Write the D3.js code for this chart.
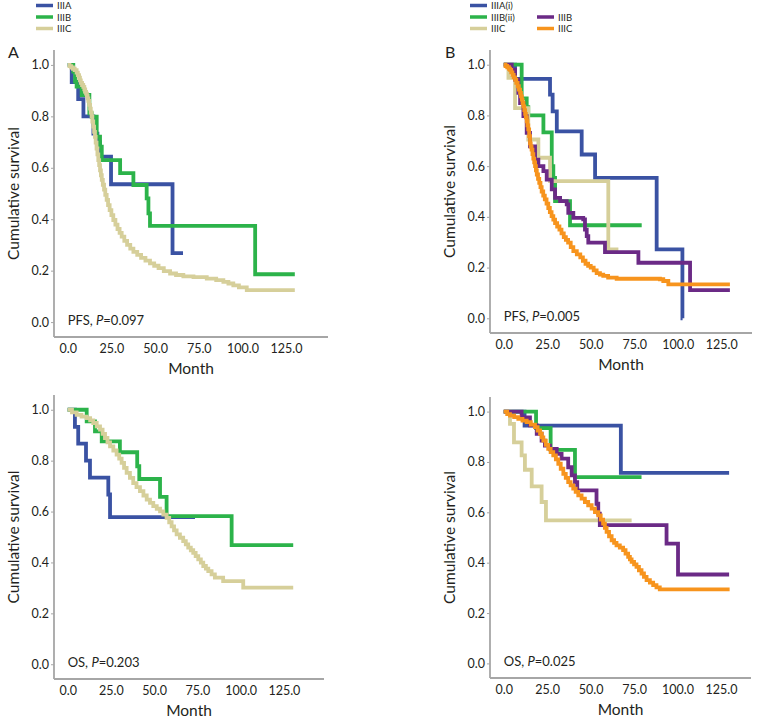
<!DOCTYPE html>
<html><head><meta charset="utf-8">
<script src="https://cdn.jsdelivr.net/npm/d3@7/dist/d3.min.js"></script>
<style>
body{margin:0;background:#fff;}
svg{display:block;}
text{font-family:Lato,"Open Sans",sans-serif;fill:#231f20;}
</style></head><body>
<svg id="chart" width="758" height="721"></svg>
<script>
// ---- data (month, cumulative survival) ----
const xTicks = [0, 25, 50, 75, 100, 125];
const yTicks = [0, 0.2, 0.4, 0.6, 0.8, 1.0];

const legendA = ["IIIA", "IIIB", "IIIC"];
const legendB1 = ["IIIA(i)", "IIIB(ii)", "IIIC"];
const legendB2 = ["IIIB", "IIIC"];

// Panel A – PFS
const pfsA_IIIA = [[0,1],[2.3,0.933],[6,0.867],[9,0.8],[14.7,0.733],[17,0.7],[18.5,0.643],[24.8,0.536],[60,0.268],[66,0.268]];
const pfsA_IIIB = [[0,1],[3.2,0.974],[4.2,0.935],[5.1,0.916],[8,0.883],[12.4,0.812],[13.7,0.799],[16.6,0.721],[18.5,0.682],[19.5,0.63],[30,0.579],[37.6,0.533],[45.2,0.481],[46.2,0.423],[47.1,0.374],[107.3,0.186],[130,0.186]];
const pfsA_IIIC = [[0,1],[1,0.995],[2,0.99],[3,0.985],[4,0.98],[5.1,0.97],[5.8,0.96],[6.5,0.95],[7,0.94],[7.5,0.93],[8.2,0.922],[8.9,0.915],[9.5,0.905],[10,0.895],[10.5,0.888],[11,0.88],[11.4,0.87],[11.8,0.86],[12.3,0.845],[12.8,0.83],[13.2,0.815],[13.7,0.8],[14.1,0.78],[14.6,0.76],[15.1,0.74],[15.6,0.72],[16,0.698],[16.5,0.675],[17,0.652],[17.5,0.63],[18,0.61],[18.5,0.59],[19,0.571],[19.5,0.553],[20.1,0.534],[20.8,0.515],[21.5,0.495],[22.3,0.475],[23.1,0.455],[24,0.435],[25,0.416],[26.1,0.397],[27.3,0.379],[28.5,0.362],[29.7,0.347],[30.9,0.332],[32.4,0.316],[34,0.3],[35.8,0.286],[37.6,0.273],[39.8,0.261],[42,0.25],[44.5,0.239],[47.1,0.228],[49.5,0.219],[52,0.21],[55,0.198],[58.6,0.189],[62,0.183],[66.2,0.178],[72,0.175],[79.6,0.169],[85,0.163],[89.1,0.156],[92,0.15],[94.8,0.143],[98,0.135],[102.5,0.124],[130,0.124]];

// Panel A – OS
const osA_IIIA = [[0,1],[4.2,0.933],[6.1,0.867],[10.6,0.8],[12.9,0.733],[23.5,0.667],[24.5,0.578],[73.6,0.578]];
const osA_IIIB = [[0,1],[11,0.954],[15.8,0.915],[19.7,0.876],[30.2,0.833],[40.2,0.778],[41.4,0.728],[53.4,0.658],[57.2,0.582],[94.8,0.468],[130.4,0.468]];
const osA_IIIC = [[0,1],[2.5,0.99],[5.2,0.98],[8,0.973],[11,0.967],[13,0.958],[14.8,0.948],[16.8,0.935],[18.7,0.922],[20.2,0.905],[21.6,0.889],[23,0.872],[24.5,0.856],[26.4,0.84],[28.3,0.824],[29.8,0.808],[31.2,0.791],[32.6,0.772],[34.1,0.752],[36,0.732],[37.9,0.712],[39.8,0.696],[41.8,0.68],[43.8,0.663],[45.7,0.647],[47.6,0.634],[49.5,0.621],[51.5,0.611],[53.4,0.601],[55.3,0.588],[57.2,0.575],[58.7,0.558],[60.1,0.542],[61.5,0.526],[63,0.51],[64.9,0.497],[66.8,0.484],[68.3,0.471],[69.7,0.458],[71.2,0.448],[72.6,0.438],[74,0.425],[75.5,0.412],[77,0.399],[78.4,0.386],[79.9,0.376],[81.3,0.366],[83.2,0.353],[85.1,0.34],[89.9,0.327],[101.5,0.301],[130.4,0.301]];

// Panel B – PFS
const pfsB_IIIAi = [[0,1],[6.5,0.944],[26.6,0.882],[28.1,0.816],[30.5,0.737],[44.8,0.646],[52.5,0.554],[87.9,0.272],[102.7,0],[102.8,0]];
const pfsB_IIIBii = [[0,1],[10.3,0.867],[13.2,0.833],[14.1,0.8],[22.8,0.733],[27.6,0.6],[28.5,0.554],[29.5,0.462],[38.1,0.367],[79.3,0.367]];
const pfsB_IIIC1 = [[0,1],[2.7,0.948],[6.5,0.829],[14.1,0.705],[19.9,0.633],[26.6,0.541],[60.1,0.272],[65.9,0.272]];
const pfsB_IIIB = [[0,1],[4.6,0.98],[6.5,0.941],[8.4,0.889],[9.4,0.849],[11.3,0.797],[13.2,0.731],[15.1,0.678],[18,0.626],[19.9,0.6],[22.8,0.58],[24.7,0.547],[27.6,0.508],[29.5,0.475],[32.4,0.462],[36.2,0.449],[37.1,0.416],[40,0.396],[45.7,0.39],[46.7,0.35],[47.7,0.324],[48.6,0.298],[58.2,0.261],[77.4,0.219],[107.1,0.111],[130,0.111]];
const pfsB_IIIC2 = [[0,1],[1,0.995],[2,0.99],[3,0.984],[3.6,0.98],[4.3,0.97],[5,0.96],[5.7,0.95],[6.5,0.941],[7.2,0.928],[8,0.915],[8.7,0.902],[9.4,0.889],[9.9,0.875],[10.4,0.862],[10.8,0.849],[11.3,0.836],[11.8,0.821],[12.3,0.806],[12.7,0.792],[13.2,0.777],[13.6,0.761],[14.1,0.745],[14.6,0.718],[15.1,0.69],[15.5,0.677],[16,0.665],[16.5,0.647],[17,0.63],[17.5,0.615],[18,0.6],[18.5,0.583],[19,0.567],[19.7,0.55],[20.4,0.534],[21.1,0.517],[21.8,0.5],[22.7,0.484],[23.6,0.469],[24.6,0.452],[25.6,0.435],[26.5,0.419],[27.5,0.403],[28.5,0.389],[29.5,0.375],[30.7,0.362],[32,0.35],[33.2,0.335],[34.5,0.32],[35.7,0.309],[37,0.298],[38.5,0.281],[40,0.265],[42,0.252],[44,0.24],[45.5,0.227],[47,0.215],[48.5,0.207],[50,0.2],[51.7,0.189],[53.4,0.178],[55.3,0.172],[57.2,0.167],[60,0.16],[64.9,0.156],[89.8,0.154],[91.7,0.147],[94.6,0.134],[130,0.134]];

// Panel B – OS
const osB_IIIAi = [[0,1],[12,0.944],[67.4,0.757],[129.7,0.757]];
const osB_IIIBii = [[0,1],[18.6,0.934],[27,0.848],[41,0.74],[79.3,0.74]];
const osB_IIIC1 = [[0,1],[3.6,0.951],[5.9,0.878],[10.3,0.826],[12.2,0.769],[16.1,0.703],[21.8,0.641],[24.3,0.568],[73.6,0.568]];
const osB_IIIB = [[0,1],[10.3,0.977],[15.1,0.945],[19,0.912],[21.8,0.885],[23.7,0.865],[26.6,0.852],[30.5,0.832],[33.3,0.813],[37.1,0.779],[39.1,0.747],[41,0.72],[42.3,0.687],[53.4,0.634],[54.4,0.595],[55.3,0.549],[93.7,0.476],[100.3,0.353],[129.7,0.353]];
const osB_IIIC2 = [[0,1],[2,0.99],[3.6,0.984],[6,0.978],[8.4,0.971],[10.8,0.964],[13.2,0.958],[15.6,0.948],[18,0.938],[19.5,0.925],[20.9,0.912],[21.9,0.898],[22.8,0.885],[24.2,0.868],[25.6,0.852],[27,0.839],[28.5,0.826],[30,0.81],[31.4,0.793],[32.8,0.773],[34.3,0.753],[35.7,0.737],[37.1,0.72],[38.5,0.707],[40,0.694],[41.4,0.681],[42.9,0.667],[44.8,0.654],[46.7,0.641],[48.6,0.628],[50.6,0.615],[52.5,0.601],[54.4,0.588],[55.8,0.571],[57.2,0.555],[58.2,0.538],[59.2,0.522],[60.6,0.505],[62.1,0.489],[63.5,0.479],[64.9,0.469],[66.8,0.46],[68.7,0.45],[70.1,0.436],[71.6,0.423],[72.6,0.413],[73.6,0.403],[75,0.393],[76.4,0.383],[77.8,0.37],[79.3,0.357],[80.7,0.344],[82.2,0.331],[84.1,0.321],[86,0.311],[87.9,0.302],[89.8,0.294],[130,0.294]];

// ---- styling ----
const C = {blue:"#3a52a3", green:"#2cb34a", tan:"#d6cf9a", purple:"#6b2a86", orange:"#f7941d"};

const panels = [
  {left:54, top:50, width:274, height:287, xDom:[-7.85,149], letter:"A",
   note:["PFS, ","P","=0.097"],
   series:[[pfsA_IIIA,C.blue],[pfsA_IIIB,C.green],[pfsA_IIIC,C.tan]]},
  {left:54, top:395, width:270, height:284, xDom:[-7.9,148.2], letter:null,
   note:["OS, ","P","=0.203"],
   series:[[osA_IIIA,C.blue],[osA_IIIB,C.green],[osA_IIIC,C.tan]]},
  {left:490, top:50, width:262, height:283, xDom:[-7.9,142.7], letter:"B",
   note:["PFS, ","P","=0.005"],
   series:[[pfsB_IIIAi,C.blue],[pfsB_IIIBii,C.green],[pfsB_IIIC1,C.tan],[pfsB_IIIB,C.purple],[pfsB_IIIC2,C.orange]]},
  {left:490, top:397, width:261, height:281, xDom:[-7.9,142.3], letter:null,
   note:["OS, ","P","=0.025"],
   series:[[osB_IIIAi,C.blue],[osB_IIIBii,C.green],[osB_IIIC1,C.tan],[osB_IIIB,C.purple],[osB_IIIC2,C.orange]]}
];

const svg = d3.select("#chart");
const axisColor = "#a6a6a6";

panels.forEach(p => {
  const g = svg.append("g").attr("transform", `translate(${p.left},${p.top})`);
  const x = d3.scaleLinear().domain(p.xDom).range([0, p.width]);
  const y = d3.scaleLinear().domain([-0.058, 1.058]).range([p.height, 0]);

  // curves
  const line = d3.line().x(d => x(d[0])).y(d => y(d[1])).curve(d3.curveStepAfter);
  p.series.forEach(([data, col]) => {
    g.append("path").datum(data).attr("d", line)
      .attr("fill", "none").attr("stroke", col).attr("stroke-width", 3.8)
      .attr("stroke-linejoin", "miter").attr("stroke-linecap", "butt");
  });

  // axes
  const yAxis = g.append("g").call(d3.axisLeft(y).tickValues(yTicks).tickFormat(d3.format(".1f")).tickSize(3).tickPadding(2));
  const xAxis = g.append("g").attr("transform", `translate(0,${p.height})`)
    .call(d3.axisBottom(x).tickValues(xTicks).tickFormat(d3.format(".1f")).tickSize(0).tickPadding(7));
  [yAxis, xAxis].forEach(a => {
    a.select(".domain").attr("stroke", axisColor).attr("stroke-width", 1.8);
    a.selectAll(".tick line").attr("stroke", axisColor).attr("stroke-width", 1);
    a.selectAll("text").style("font-size", "12.5px").style("font-family", "Lato, sans-serif").attr("fill", "#231f20");
  });
  xAxis.select(".domain").attr("d", `M0,0H${p.width}`);
  yAxis.select(".domain").attr("d", `M0,0V${p.height}`);

  // axis titles
  g.append("text").attr("x", p.width / 2).attr("y", p.height + 37)
    .attr("text-anchor", "middle").style("font-size", "15.5px").text("Month");
  g.append("text").attr("transform", `translate(-35,${p.height / 2}) rotate(-90)`)
    .attr("text-anchor", "middle").style("font-size", "15.5px").text("Cumulative survival");

  // annotation
  const t = g.append("text").attr("x", x(0)).attr("y", y(0) + 3).style("font-size", "13px");
  t.append("tspan").text(p.note[0]);
  t.append("tspan").style("font-style", "italic").text(p.note[1]);
  t.append("tspan").text(p.note[2]);

  if (p.letter) {
    svg.append("text").attr("x", p.left - (p.letter === "A" ? 46 : 45)).attr("y", p.top + 8)
      .style("font-size", "16px").text(p.letter);
  }
});

// legends
function legendItem(xl, yl, col, label) {
  svg.append("line").attr("x1", xl).attr("x2", xl + 17).attr("y1", yl).attr("y2", yl)
    .attr("stroke", col).attr("stroke-width", 3.5);
  svg.append("text").attr("x", xl + 21).attr("y", yl + 3.5).style("font-size", "9.5px").text(label);
}
const colsA = [C.blue, C.green, C.tan];
legendA.forEach((l, i) => legendItem(36, 5.5 + i * 11.5, colsA[i], l));
const colsB1 = [C.blue, C.green, C.tan];
legendB1.forEach((l, i) => legendItem(470, 5.5 + i * 11.5, colsB1[i], l));
const colsB2 = [C.purple, C.orange];
legendB2.forEach((l, i) => legendItem(537, 17 + i * 11.5, colsB2[i], l));
</script>
</body></html>
